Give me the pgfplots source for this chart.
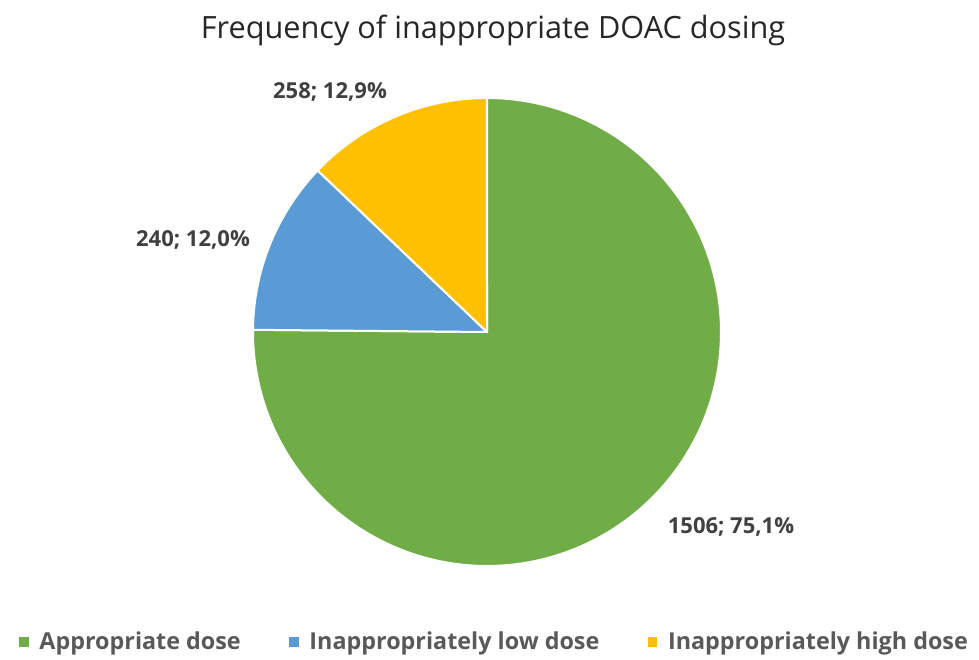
\documentclass[border=0pt]{standalone}
\usepackage{pgfplots}
\pgfplotsset{compat=1.18}
\usepackage{fontspec}
\setmainfont{Open Sans}
\definecolor{cGreen}{HTML}{70AD47}
\definecolor{cBlue}{HTML}{5B9BD5}
\definecolor{cYellow}{HTML}{FFC000}
\definecolor{cLabel}{HTML}{404040}
\definecolor{cLegend}{HTML}{595959}
\begin{document}
\begin{tikzpicture}
% data
\def\va{1506}\def\vb{240}\def\vc{258}
\pgfmathsetmacro\tot{\va+\vb+\vc}
\pgfmathsetmacro\aA{90-360*(\va/\tot)}
\pgfmathsetmacro\aB{\aA-360*(\vb/\tot)}
\pgfmathsetmacro\aC{\aB-360*(\vc/\tot)}
\begin{axis}[
  scale only axis, width=734.25pt, height=495pt,
  xmin=0, xmax=979, ymin=-660, ymax=0,
  hide axis, clip=false,
  legend style={at={(axis cs:494,-642)}, anchor=center, draw=none, fill=none,
    legend columns=3, font=\fontsize{17.5pt}{20pt}\selectfont\bfseries, text=cLegend,
    /tikz/every odd column/.append style={column sep=4.5pt},
    /tikz/every even column/.append style={column sep=33pt},
    legend cell align=left},
  legend image code/.code={\fill[#1] (0pt,-4.25pt) rectangle (8.5pt,4.25pt);},
]
\addplot[fill=cGreen, draw=white, line width=1.5pt, line join=round, domain=\aA:90, samples=181]
  ({487+234*cos(x)}, {-332+234*sin(x)}) -- (axis cs:487,-332) -- cycle;
\addlegendentry{Appropriate dose}
\addplot[fill=cBlue, draw=white, line width=1.5pt, line join=round, domain=\aB:\aA, samples=40]
  ({487+234*cos(x)}, {-332+234*sin(x)}) -- (axis cs:487,-332) -- cycle;
\addlegendentry{Inappropriately low dose}
\addplot[fill=cYellow, draw=white, line width=1.5pt, line join=round, domain=\aC:\aB, samples=40]
  ({487+234*cos(x)}, {-332+234*sin(x)}) -- (axis cs:487,-332) -- cycle;
\addlegendentry{Inappropriately high dose}
\node[font=\fontsize{23pt}{27pt}\selectfont, text=black!85] at (axis cs:493,-30) {Frequency of inappropriate DOAC dosing};
\node[font=\fontsize{16.5pt}{19pt}\selectfont\bfseries, text=cLabel] at (axis cs:330,-92) {258; 12,9\%};
\node[font=\fontsize{16.5pt}{19pt}\selectfont\bfseries, text=cLabel] at (axis cs:193,-240) {240; 12,0\%};
\node[font=\fontsize{16.5pt}{19pt}\selectfont\bfseries, text=cLabel] at (axis cs:731,-527) {1506; 75,1\%};
\end{axis}
\pgfresetboundingbox
\path[use as bounding box] (current axis.south west) rectangle (current axis.north east);
\end{tikzpicture}
\end{document}
